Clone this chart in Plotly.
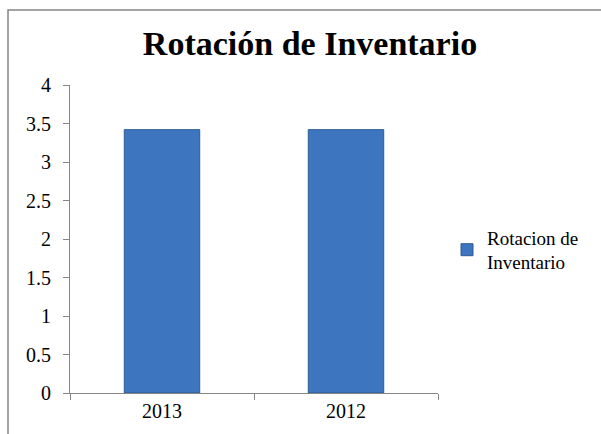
import plotly.graph_objects as go

categories = ["2013", "2012"]
values = [3.42, 3.42]
series_name = "Rotacion de<br>Inventario"
title_text = "Rotación de Inventario"

W, H = 601, 434
L, R, T, B = 70, 163, 85, 41
pw, ph = W - L - R, H - T - B
SERIF = "'Times New Roman', 'Liberation Serif', Times, serif"

fig = go.Figure()
fig.add_trace(go.Bar(
    x=categories, y=values, name=series_name,
    marker=dict(color="#3d75be", line=dict(color="#2d5a92", width=1)),
    showlegend=True,
))

fig.update_layout(
    width=W, height=H,
    margin=dict(l=L, r=R, t=T, b=B),
    paper_bgcolor="white", plot_bgcolor="white",
    font=dict(family=SERIF, size=19, color="black"),
    title=dict(text="<b>" + title_text + "</b>", x=310 / W, xanchor="center",
               y=1 - 43 / H, yanchor="middle",
               font=dict(size=34, family=SERIF, color="black")),
    bargap=0.59,
    showlegend=True,
    legend=dict(x=(447 - L) / pw, y=(393 - 250) / ph, xanchor="left", yanchor="middle",
                font=dict(size=19, family=SERIF, color="black"),
                bgcolor="rgba(0,0,0,0)"),
    xaxis=dict(showline=True, linecolor="#868686", linewidth=1, ticks="outside",
               tickson="boundaries", ticklen=6, tickcolor="#868686", showgrid=False,
               tickfont=dict(size=20, family=SERIF, color="black")),
    yaxis=dict(range=[0, 4], dtick=0.5, showline=True, linecolor="#868686", linewidth=1,
               ticks="outside", ticklen=6, tickcolor="#868686", showgrid=False,
               ticklabelstandoff=8,
               zeroline=False, tickfont=dict(size=20, family=SERIF, color="black")),
)

fig.add_shape(type="rect", xref="paper", yref="paper",
              x0=(8 - L) / pw, x1=2, y0=-1, y1=1 + (T - 10) / ph,
              line=dict(color="#868686", width=1.5), fillcolor="rgba(0,0,0,0)", layer="below")

fig.write_html("out.html", config={"displayModeBar": False},
               post_script="document.body.style.margin='0';document.body.style.padding='0';")
